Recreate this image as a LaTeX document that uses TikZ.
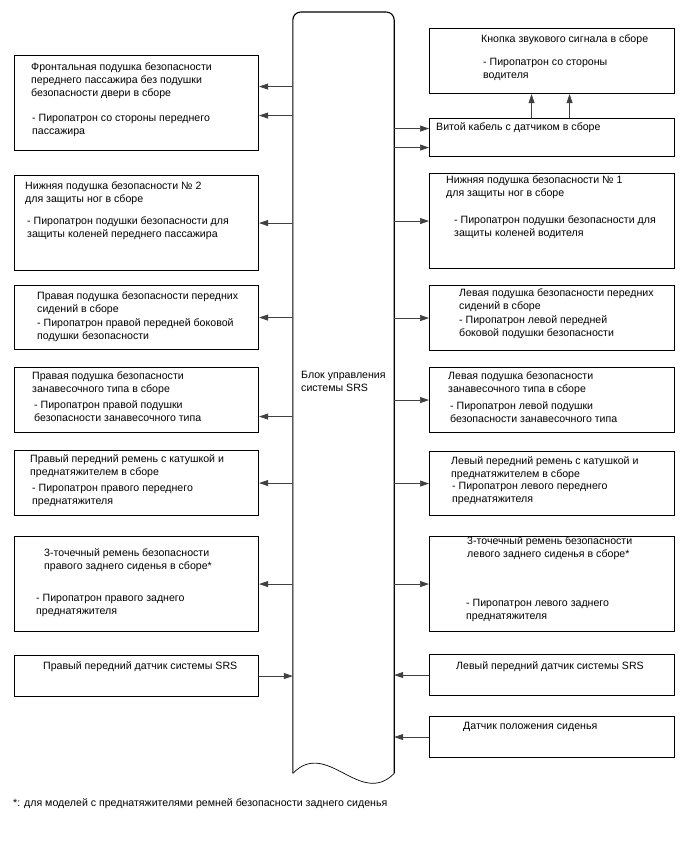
\documentclass[tikz,border=0pt]{standalone}
\usepackage{fontspec}
\setmainfont{Liberation Sans}
\usetikzlibrary{arrows.meta}

\begin{document}
\begin{tikzpicture}[x=1pt,y=-1pt,>={Stealth[length=9pt,width=6pt,inset=0pt]},
    box/.style={draw,line width=1.1pt,anchor=north west,inner sep=0pt},
    lbox/.style={box,minimum width=244},
    rbox/.style={box,minimum width=245},
    txt/.style={anchor=west,align=left,inner sep=0pt,font=\fontsize{10.6}{13}\selectfont},
    arr/.style={->,line width=0.7pt,draw=black!75}]
        \useasboundingbox (0,0) rectangle (688,852);
        % SRS control unit
        \node[minimum width=101,minimum height=761,anchor=north,inner sep=0pt] (srs) at (343.5,12) {};
        \draw[line width=1.1pt,rounded corners=8pt] (srs.south west) -- (srs.north west) -- (srs.north east) -- (srs.south east);
        \draw[line width=0.7pt] (srs.south east) .. controls (360,808) and (327,738) .. (srs.south west);
        \node[txt] (srslbl) at (301,381.5) {Блок управления\\системы SRS};
        % left side
        \node[lbox,minimum height=95] (l1) at (14,55) {};
        \node[lbox,minimum height=95] (l2) at (14,175) {};
        \node[lbox,minimum height=64] (l3) at (14,285) {};
        \node[lbox,minimum height=65] (l4) at (14,367) {};
        \node[lbox,minimum height=65] (l5) at (14,450) {};
        \node[lbox,minimum height=95] (l6) at (14,536) {};
        \node[lbox,minimum height=41] (l7) at (14,655) {};
        \node[txt] (l1a) at (31,81) {Фронтальная подушка безопасности\\переднего пассажира без подушки\\безопасности двери в сборе};
        \node[txt] (l1b) at (32,125.5) {- Пиропатрон со стороны переднего\\пассажира};
        \node[txt] (l2a) at (25,193.5) {Нижняя подушка безопасности № 2\\для защиты ног в сборе};
        \node[txt] (l2b) at (27,228) {- Пиропатрон подушки безопасности для\\защиты коленей переднего пассажира};
        \node[txt] (l3a) at (37,303) {Правая подушка безопасности передних\\сидений в сборе};
        \node[txt] (l3b) at (37,330) {- Пиропатрон правой передней боковой\\подушки безопасности};
        \node[txt] (l4a) at (32,383.5) {Правая подушка безопасности\\занавесочного типа в сборе};
        \node[txt] (l4b) at (34,411.5) {- Пиропатрон правой подушки\\безопасности занавесочного типа};
        \node[txt] (l5a) at (30,466.5) {Правый передний ремень с катушкой и\\преднатяжителем в сборе};
        \node[txt] (l5b) at (32,495) {- Пиропатрон правого переднего\\преднатяжителя};
        \node[txt] (l6a) at (44,560) {3-точечный ремень безопасности\\правого заднего сиденья в сборе*};
        \node[txt] (l6b) at (36,605.5) {- Пиропатрон правого заднего\\преднатяжителя};
        \node[txt] (l7a) at (43,667) {Правый передний датчик системы SRS};
        % right side
        \node[rbox,minimum height=65] (r1) at (429,28) {};
        \node[rbox,minimum height=38] (r2) at (429,118) {};
        \node[rbox,minimum height=95] (r3) at (429,173) {};
        \node[rbox,minimum height=65] (r4) at (429,285) {};
        \node[rbox,minimum height=65] (r5) at (429,367) {};
        \node[rbox,minimum height=64] (r6) at (429,451) {};
        \node[rbox,minimum height=95] (r7) at (429,536) {};
        \node[rbox,minimum height=41] (r8) at (429,654) {};
        \node[rbox,minimum height=41] (r9) at (429,716) {};
        \node[txt] (r1a) at (481,40) {Кнопка звукового сигнала в сборе};
        \node[txt] (r1b) at (483,69) {- Пиропатрон со стороны\\водителя};
        \node[txt] (r2a) at (436,128) {Витой кабель с датчиком в сборе};
        \node[txt] (r3a) at (446,187.5) {Нижняя подушка безопасности № 1\\для защиты ног в сборе};
        \node[txt] (r3b) at (454,227) {- Пиропатрон подушки безопасности для\\защиты коленей водителя};
        \node[txt] (r4a) at (459,300.5) {Левая подушка безопасности передних\\сидений в сборе};
        \node[txt] (r4b) at (459,327.5) {- Пиропатрон левой передней\\боковой подушки безопасности};
        \node[txt] (r5a) at (448,383) {Левая подушка безопасности\\занавесочного типа в сборе};
        \node[txt] (r5b) at (450,412.5) {- Пиропатрон левой подушки\\безопасности занавесочного типа};
        \node[txt] (r6a) at (451,468) {Левый передний ремень с катушкой и\\преднатяжителем в сборе};
        \node[txt] (r6b) at (452,493.5) {- Пиропатрон левого переднего\\преднатяжителя};
        \node[txt] (r7a) at (467,548) {3-точечный ремень безопасности\\левого заднего сиденья в сборе*};
        \node[txt] (r7b) at (466,610) {- Пиропатрон левого заднего\\преднатяжителя};
        \node[txt] (r8a) at (456,667) {Левый передний датчик системы SRS};
        \node[txt] (r9a) at (463,727) {Датчик положения сиденья};
        % footnote
        \node[txt] (note) at (13,804) {*: для моделей с преднатяжителями ремней безопасности заднего сиденья};
        % connectors
        \coordinate (l1u) at ([yshift=16.5pt]l1.east);
        \coordinate (l1d) at ([yshift=-12.5pt]l1.east);
        \coordinate (l4d) at ([yshift=-16.5pt]l4.east);
        \coordinate (r2u) at ([yshift=9pt]r2.west);
        \coordinate (r2d) at ([yshift=-10pt]r2.west);
        \draw[arr] (srs.west |- l1u) -- (l1u);
        \draw[arr] (srs.west |- l1d) -- (l1d);
        \draw[arr] (srs.west |- l2.east) -- (l2.east);
        \draw[arr] (srs.west |- l3.east) -- (l3.east);
        \draw[arr] (srs.west |- l4d) -- (l4d);
        \draw[arr] (srs.west |- l5.east) -- (l5.east);
        \draw[arr] (srs.west |- l6.east) -- (l6.east);
        \draw[arr] (l7.east) -- (srs.west |- l7.east);
        \draw[arr] (srs.east |- r2u) -- (r2u);
        \draw[arr] (srs.east |- r2d) -- (r2d);
        \draw[arr] ([xshift=-20.5pt]r2.north) -- ([xshift=-20.5pt]r1.south);
        \draw[arr] ([xshift=17.5pt]r2.north) -- ([xshift=17.5pt]r1.south);
        \draw[arr] (srs.east |- r3.west) -- (r3.west);
        \draw[arr] (srs.east |- r4.west) -- (r4.west);
        \draw[arr] (srs.east |- r5.west) -- (r5.west);
        \draw[arr] (srs.east |- r6.west) -- (r6.west);
        \draw[arr] (srs.east |- r7.west) -- (r7.west);
        \draw[arr] (r8.west) -- (srs.east |- r8.west);
        \draw[arr] (r9.west) -- (srs.east |- r9.west);
\end{tikzpicture}
\end{document}
